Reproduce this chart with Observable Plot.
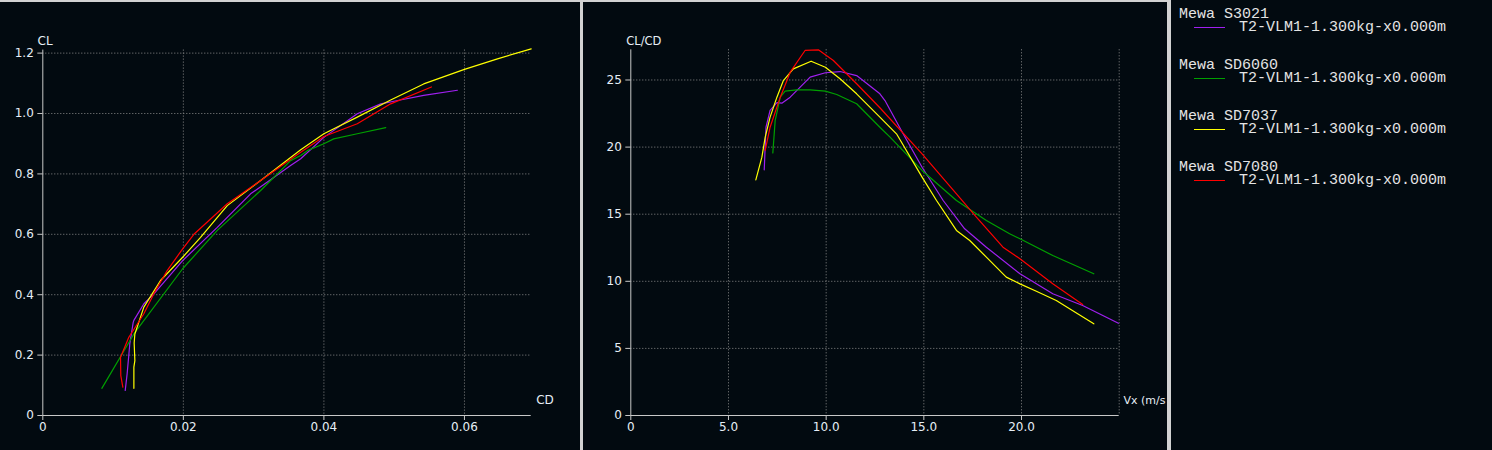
<!DOCTYPE html>
<html>
<head>
<meta charset="utf-8">
<script src="https://cdn.jsdelivr.net/npm/d3@7"></script>
<script src="https://cdn.jsdelivr.net/npm/@observablehq/plot@0.6"></script>
<style>
  html, body { margin: 0; padding: 0; }
  body { width: 1492px; height: 450px; overflow: hidden; position: relative; background: #d2d2d2; }
  .panel { position: absolute; top: 0; height: 450px; background: #020a10; overflow: hidden; }
  #topbar { position: absolute; left: 0; top: 0; width: 1171px; height: 2px; background: #d2d2d2; z-index: 5; }
  .legtxt { position: absolute; font-family: "Liberation Mono", monospace; font-size: 15px; color: #e4e4e4; white-space: pre; line-height: 16px; }
  .legsw { position: absolute; height: 1px; }
</style>
</head>
<body>
<div id="p1" class="panel" style="left:0;width:580px"></div>
<div id="p2" class="panel" style="left:583px;width:584px"></div>
<div id="leg" class="panel" style="left:1171px;width:321px"></div>
<div id="topbar"></div>
<script>
// ---------- series / legend ----------
const foils = ["Mewa S3021", "Mewa SD6060", "Mewa SD7037", "Mewa SD7080"];
const foilColors = ["#a020f0", "#00a000", "#ffff00", "#ff0000"];
const polarName = "T2-VLM1-1.300kg-x0.000m";

// ---------- left panel: CL vs CD ----------
const s3021_cd = [0.01173, 0.0120, 0.01238, 0.01287, 0.01296, 0.01438, 0.0158, 0.0199, 0.02483, 0.02957, 0.03526, 0.0367, 0.0400, 0.04475, 0.0481, 0.0505, 0.0542, 0.0590];
const s3021_cl = [0.083, 0.138, 0.237, 0.309, 0.315, 0.370, 0.403, 0.513, 0.623, 0.734, 0.828, 0.850, 0.921, 0.999, 1.032, 1.043, 1.060, 1.077];

const sd6060_cd = [0.0084, 0.01296, 0.0199, 0.02483, 0.0310, 0.03526, 0.0367, 0.03764, 0.0400, 0.0414, 0.04475, 0.0488];
const sd6060_cl = [0.090, 0.270, 0.486, 0.613, 0.745, 0.844, 0.861, 0.877, 0.900, 0.916, 0.933, 0.953];

const sd7037_cd = [0.01296, 0.01296, 0.0131, 0.01300, 0.01310, 0.01438, 0.01675, 0.0199, 0.02245, 0.02625, 0.0310, 0.0367, 0.0400, 0.04475, 0.0495, 0.0542, 0.0600, 0.0647, 0.0695];
const sd7037_cl = [0.090, 0.160, 0.182, 0.240, 0.270, 0.359, 0.447, 0.524, 0.590, 0.695, 0.778, 0.880, 0.933, 0.988, 1.045, 1.098, 1.146, 1.181, 1.214];

const sd7080_cd = [0.01139, 0.0111, 0.01106, 0.01224, 0.01438, 0.0158, 0.0177, 0.0199, 0.0215, 0.02625, 0.0310, 0.0367, 0.0400, 0.04475, 0.0495, 0.0553];
const sd7080_cl = [0.094, 0.132, 0.193, 0.259, 0.337, 0.403, 0.480, 0.552, 0.600, 0.701, 0.778, 0.872, 0.924, 0.966, 1.032, 1.088];

const cdTicks = [0, 0.02, 0.04, 0.06];
const clTicks = [0, 0.2, 0.4, 0.6, 0.8, 1.0, 1.2];

// ---------- right panel: CL/CD vs Vx ----------
const s3021_vx = [6.83, 6.92, 7.13, 7.48, 7.73, 8.16, 9.18, 9.96, 10.71, 11.56, 12.75, 13.01, 13.94, 14.91, 15.99, 17.09, 18.2, 19.92, 21.6, 23.13, 24.96];
const s3021_ld = [18.31, 21.48, 22.73, 23.32, 23.27, 23.72, 25.21, 25.54, 25.63, 25.33, 23.97, 23.47, 20.99, 18.5, 16.02, 13.91, 12.54, 10.56, 9.07, 8.2, 6.88];

const sd6060_vx = [7.27, 7.39, 7.65, 7.9, 8.5, 9.18, 9.96, 10.54, 11.56, 12.75, 13.27, 14.91, 16.67, 18.2, 19.39, 19.92, 21.6, 23.7];
const sd6060_ld = [19.57, 21.98, 23.72, 24.17, 24.27, 24.27, 24.17, 23.92, 23.23, 21.48, 20.74, 18.26, 16.02, 14.53, 13.54, 13.17, 11.92, 10.56];

const sd7037_vx = [6.40, 6.71, 6.88, 7.13, 7.48, 7.81, 8.32, 9.23, 9.96, 10.71, 11.56, 12.75, 13.6, 14.91, 15.65, 16.67, 17.35, 18.2, 19.22, 19.92, 20.76, 21.78, 22.46, 23.7];
const sd7037_ld = [17.56, 19.25, 20.74, 22.23, 23.72, 24.96, 25.83, 26.4, 25.95, 25.09, 23.97, 22.23, 20.99, 17.76, 16.02, 13.79, 13.04, 11.8, 10.31, 9.81, 9.26, 8.57, 7.95, 6.83];

const sd7080_vx = [6.88, 7.13, 7.65, 8.16, 8.92, 9.6, 10.37, 11.56, 12.75, 14.91, 16.67, 17.69, 19.05, 19.92, 21.6, 23.13];
const sd7080_ld = [19.75, 21.48, 23.72, 25.58, 27.2, 27.25, 26.45, 24.72, 22.93, 19.5, 16.52, 14.78, 12.54, 11.68, 9.81, 8.27];

const vxTicks = [0, 5, 10, 15, 20];
const vxGrid = [5, 10, 15, 20, 25];
const ldTicks = [0, 5, 10, 15, 20, 25];

// axis titles (the speed title is cut by the panel edge in the original)
const leftYTitle = "CL";
const leftXTitle = "CD";
const rightYTitle = "CL/CD";
const rightXTitle = "Vx (m/s";

// ---------- build tidy tables ----------
function zipSeries(name, xs, ys, kx, ky) {
  return xs.map((x, i) => ({foil: name, [kx]: x, [ky]: ys[i]}));
}
const polarRows = [
  ...zipSeries(foils[0], s3021_cd, s3021_cl, "cd", "cl"),
  ...zipSeries(foils[1], sd6060_cd, sd6060_cl, "cd", "cl"),
  ...zipSeries(foils[2], sd7037_cd, sd7037_cl, "cd", "cl"),
  ...zipSeries(foils[3], sd7080_cd, sd7080_cl, "cd", "cl")
];
const speedRows = [
  ...zipSeries(foils[0], s3021_vx, s3021_ld, "vx", "ld"),
  ...zipSeries(foils[1], sd6060_vx, sd6060_ld, "vx", "ld"),
  ...zipSeries(foils[2], sd7037_vx, sd7037_ld, "vx", "ld"),
  ...zipSeries(foils[3], sd7080_vx, sd7080_ld, "vx", "ld")
];

const TEXT = "#e6eef6";
const AXIS = "#c8c8c8";
const GRID = "#8a8a8a";
const FONT = "'DejaVu Sans', sans-serif";

const color = {domain: foils, range: foilColors};
const gridOpts = {stroke: GRID, strokeOpacity: 1, strokeDasharray: "1,2", strokeWidth: 1};
const axisOpts = {stroke: AXIS, tickSize: 5, fill: TEXT, label: null, fontSize: 12};

const left = Plot.plot({
  width: 580, height: 450,
  marginLeft: 42.3, marginRight: 49.3, marginTop: 49.6, marginBottom: 35,
  style: {background: "transparent", color: TEXT, fontFamily: FONT, fontSize: "12px"},
  x: {domain: [0, 0.0695]},
  y: {domain: [0, 1.21]},
  color,
  marks: [
    Plot.gridX(cdTicks.filter(d => d > 0), gridOpts),
    Plot.gridY(clTicks.filter(d => d > 0), gridOpts),
    Plot.axisX(cdTicks, {...axisOpts, tickPadding: 2, tickFormat: d => d === 0 ? "0" : d.toFixed(2)}),
    Plot.axisY(clTicks, {...axisOpts, tickPadding: 4, tickFormat: d => d === 0 ? "0" : d.toFixed(1)}),
    Plot.ruleX([0], {stroke: AXIS}),
    Plot.ruleY([0], {stroke: AXIS}),
    Plot.line(polarRows, {x: "cd", y: "cl", z: "foil", stroke: "foil", strokeWidth: 1.2}),
    Plot.text([leftYTitle], {frameAnchor: "top-left", textAnchor: "start", lineAnchor: "middle", dx: -5.3, dy: -8.6, fill: TEXT, fontSize: 12}),
    Plot.text([leftXTitle], {frameAnchor: "bottom-right", textAnchor: "start", lineAnchor: "middle", dx: 5, dy: -15, fill: TEXT, fontSize: 12})
  ]
});
document.getElementById("p1").appendChild(left);

const right = Plot.plot({
  width: 584, height: 450,
  marginLeft: 47.3, marginRight: 48.3, marginTop: 49.3, marginBottom: 35,
  style: {background: "transparent", color: TEXT, fontFamily: FONT, fontSize: "12px"},
  x: {domain: [0, 25]},
  y: {domain: [0, 27.25]},
  color,
  marks: [
    Plot.gridX(vxGrid, gridOpts),
    Plot.gridY(ldTicks.filter(d => d > 0), gridOpts),
    Plot.axisX(vxTicks, {...axisOpts, tickPadding: 2, tickFormat: d => d === 0 ? "0" : d.toFixed(1)}),
    Plot.axisY(ldTicks, {...axisOpts, tickPadding: 4, tickFormat: d => String(d)}),
    Plot.ruleX([0], {stroke: AXIS}),
    Plot.ruleY([0], {stroke: AXIS}),
    Plot.line(speedRows, {x: "vx", y: "ld", z: "foil", stroke: "foil", strokeWidth: 1.2}),
    Plot.text([rightYTitle], {frameAnchor: "top-left", textAnchor: "start", lineAnchor: "middle", dx: -4.6, dy: -8.3, fill: TEXT, fontSize: 11.5}),
    Plot.text([rightXTitle], {frameAnchor: "bottom-right", textAnchor: "start", lineAnchor: "middle", dx: 4.3, dy: -15, fill: TEXT, fontSize: 11})
  ]
});
document.getElementById("p2").appendChild(right);

// ---------- legend panel ----------
const leg = document.getElementById("leg");
foils.forEach((name, i) => {
  const top = 7 + i * 51;
  const t1 = document.createElement("div");
  t1.className = "legtxt";
  t1.style.left = "8px";
  t1.style.top = top + "px";
  t1.textContent = name;
  leg.appendChild(t1);
  const sw = document.createElement("div");
  sw.className = "legsw";
  sw.style.left = "23px";
  sw.style.width = "31px";
  sw.style.top = (top + 20) + "px";
  sw.style.background = foilColors[i];
  leg.appendChild(sw);
  const t2 = document.createElement("div");
  t2.className = "legtxt";
  t2.style.left = "68px";
  t2.style.top = (top + 13) + "px";
  t2.textContent = polarName;
  leg.appendChild(t2);
});
</script>
</body>
</html>
